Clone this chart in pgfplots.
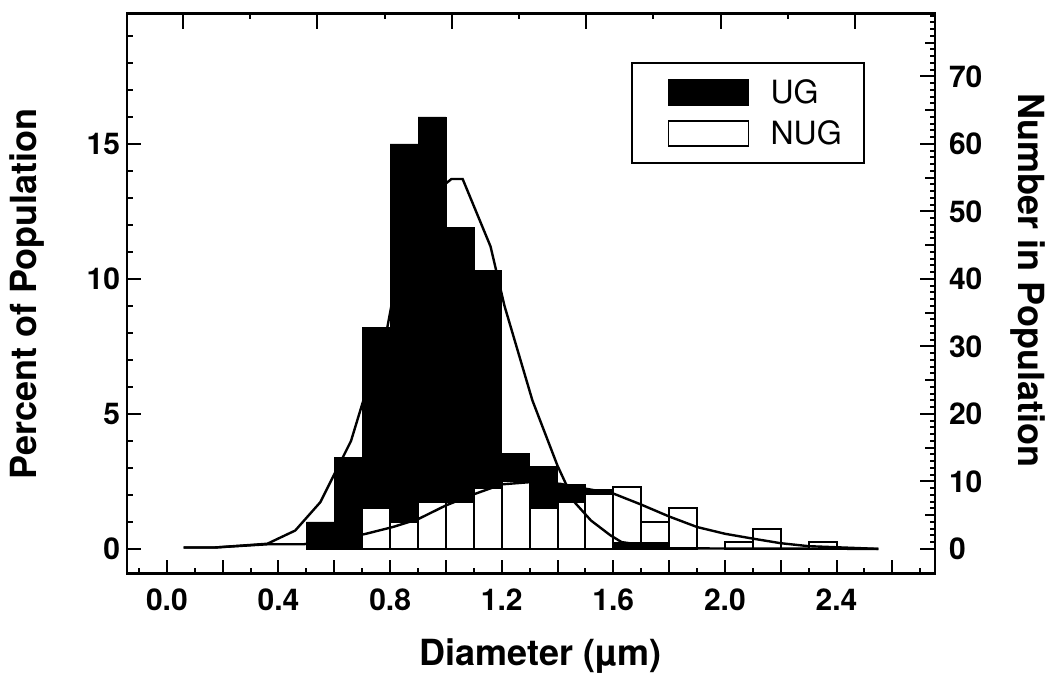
\documentclass[border=0pt]{standalone}
\usepackage{fontspec}
\setmainfont{TeX Gyre Heros}
\usepackage{pgfplots}
\usepackage{pgfplotstable}
\pgfplotsset{compat=1.18}

% UG: percent of population per 0.1 um bin (bin centres)
\pgfplotstableread{
x    y
0.55 1.0
0.65 3.4
0.75 8.2
0.85 15.0
0.95 16.0
1.05 11.9
1.15 10.3
1.25 3.55
1.35 3.05
1.45 2.4
1.55 2.2
1.65 0.25
1.75 0.25
}\ugdata

% NUG: percent of population per 0.1 um bin (bin centres)
\pgfplotstableread{
x    y
0.75 1.5
0.85 1.0
0.95 1.75
1.05 1.75
1.15 2.25
1.25 2.5
1.35 1.5
1.45 1.75
1.55 2.05
1.65 2.3
1.75 1.0
1.85 1.5
2.05 0.25
2.15 0.75
2.35 0.25
}\nugdata

% fitted curve, UG
\pgfplotstableread{
x    y
0.06 0.05
0.17 0.05
0.36 0.19
0.46 0.68
0.55 1.73
0.66 4.0
0.71 5.7
0.79 8.2
0.81 9.3
0.90 12.0
0.96 13.2
1.02 13.7
1.06 13.7
1.16 11.2
1.21 9.0
1.31 5.5
1.40 3.08
1.46 1.74
1.52 1.05
1.59 0.5
1.63 0.25
1.79 0.02
2.55 0.0
}\ugfit

% fitted curve, NUG
\pgfplotstableread{
x    y
0.06 0.05
0.17 0.05
0.36 0.17
0.49 0.17
0.60 0.35
0.71 0.55
0.81 0.81
0.90 1.10
1.00 1.61
1.105 2.04
1.20 2.39
1.30 2.47
1.41 2.41
1.50 2.23
1.60 2.05
1.70 1.64
1.80 1.2
1.90 0.81
2.00 0.56
2.10 0.38
2.20 0.21
2.30 0.10
2.55 0.0
}\nugfit

\pgfplotsset{
  barleg/.style={legend image code/.code={%
      \path (-9pt,0pt);
      \draw[##1, line width=0.9pt] (0pt,-6pt) rectangle (40pt,6.5pt);
      \path (48.5pt,0pt);}},
}

\begin{document}
\begin{tikzpicture}
\begin{axis}[
  name=main,
  scale only axis, width=404pt, height=280pt,
  xmin=-0.143, xmax=2.753, ymin=-0.92, ymax=19.82,
  axis line style={line width=1.3pt},
  xtick pos=left, ytick pos=left, tick align=inside,
  xtick={0,0.2,...,2.6},
  xticklabels={0.0,,0.4,,0.8,,1.2,,1.6,,2.0,,2.4,},
  minor xtick={-0.1,0.1,...,2.7},
  ytick={0,5,10,15}, minor ytick={0,1,...,19},
  major tick length=7pt, minor tick length=3pt,
  tick style={black, line width=1pt},
  tick label style={font=\fontsize{15}{18}\selectfont\bfseries},
  /pgf/number format/assume math mode=true,
  xticklabel style={yshift=-4pt},
  xlabel={Diameter (µm)}, ylabel={Percent of Population},
  label style={font=\fontsize{18}{21}\selectfont\bfseries, inner sep=0pt},
  xlabel style={at={(axis description cs:0.512,0)}, yshift=-41pt, anchor=center},
  ylabel style={at={(axis description cs:-0.1238,0.5)}, anchor=center},
  legend style={at={(axis description cs:0.913,0.913)}, anchor=north east,
    draw=black, line width=1pt, font=\fontsize{16}{18}\selectfont,
    inner xsep=9pt, inner ysep=6pt, row sep=3pt, cells={anchor=west}},
]
\addplot[ybar, bar width=0.1, bar shift=0pt, fill=black, draw=black, line width=0.3pt, barleg]
  table[x=x, y=y] {\ugdata};
\addplot[ybar, bar width=0.1, bar shift=0pt, fill=white, draw=black, line width=1pt, barleg]
  table[x=x, y=y] {\nugdata};
% UG bars that are shorter than the NUG bars are drawn in front
\addplot[ybar, bar width=0.1, bar shift=0pt, fill=black, draw=black, line width=0.3pt, forget plot,
  restrict x to domain=1.6:1.8]
  table[x=x, y=y] {\ugdata};
\addplot[black, line width=1.2pt, sharp plot, forget plot] table[x=x, y=y] {\ugfit};
\addplot[black, line width=1.2pt, sharp plot, forget plot] table[x=x, y=y] {\nugfit};
\legend{UG,NUG}
\end{axis}

\begin{axis}[
  scale only axis, width=404pt, height=280pt,
  xmin=-0.833, xmax=11.19, ymin=-3.68, ymax=79.28,
  axis line style={line width=1.3pt},
  xtick pos=right, ytick pos=right, yticklabel pos=right, tick align=inside,
  xtick={0,2,...,10}, minor xtick={1,3,...,9}, xticklabels={},
  ytick={0,10,...,70}, minor ytick={0,1,...,79},
  extra y ticks={5,15,...,75}, extra y tick labels={},
  extra y tick style={major tick length=5pt},
  major tick length=7.5pt, minor tick length=2.5pt,
  tick style={black, line width=1pt},
  tick label style={font=\fontsize{15}{18}\selectfont\bfseries},
  /pgf/number format/assume math mode=true,
  yticklabel style={xshift=3.5pt},
  ylabel={Number in Population},
  label style={font=\fontsize{18}{21}\selectfont\bfseries, inner sep=0pt},
  ylabel style={at={(axis description cs:1.115,0.524)}, anchor=center, rotate=180},
]
\addplot[draw=none] coordinates {(0,0)};
\end{axis}
\path ([xshift=-63.5pt,yshift=-49pt]main.south west) rectangle ([xshift=61pt,yshift=6.5pt]main.north east);
\end{tikzpicture}
\end{document}
